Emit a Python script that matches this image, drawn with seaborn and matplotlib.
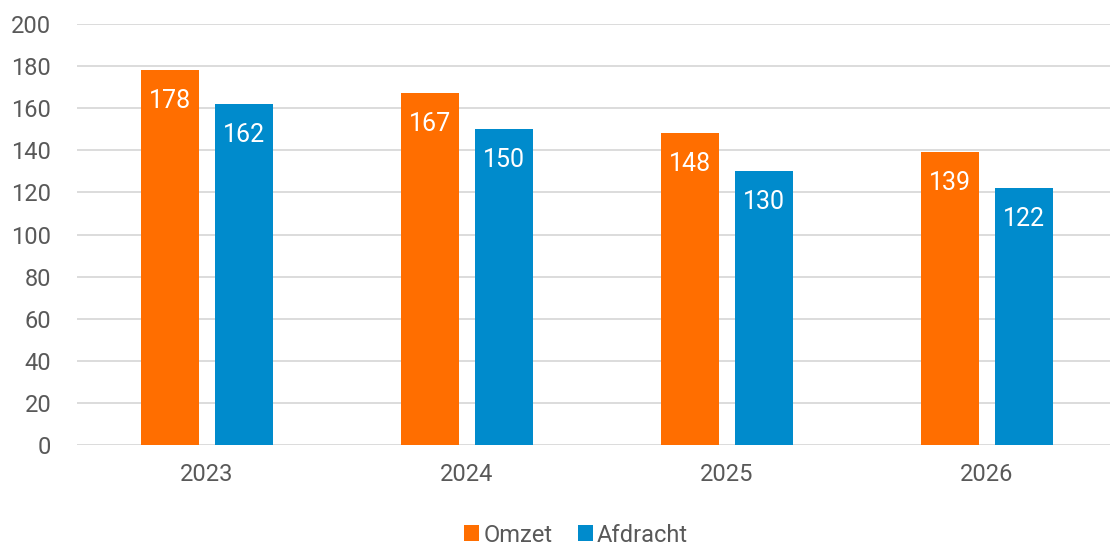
import matplotlib
matplotlib.use("Agg")
import matplotlib.pyplot as plt
import seaborn as sns
import pandas as pd
from matplotlib.patches import Patch

years = ["2023", "2024", "2025", "2026"]
omzet = [178, 167, 148, 139]
afdracht = [162, 150, 130, 122]
series_names = ["Omzet", "Afdracht"]
colors = ["#FF6E00", "#008BCC"]
yticks = [0, 20, 40, 60, 80, 100, 120, 140, 160, 180, 200]

df = pd.DataFrame({
    "year": years * 2,
    "value": omzet + afdracht,
    "series": [series_names[0]] * len(years) + [series_names[1]] * len(years),
})

sns.set_theme(style="white")
plt.rcParams["font.family"] = ["Roboto", "DejaVu Sans"]

W, H = 1110, 545
fig = plt.figure(figsize=(W / 100, H / 100), dpi=100)
left, right, top, bottom = 77, 1110, 24, 445
ax = fig.add_axes([left / W, 1 - bottom / H, (right - left) / W, (bottom - top) / H])

sns.barplot(data=df, x="year", y="value", hue="series", palette=colors,
            width=0.569, gap=0.216, dodge=True, ax=ax, legend=False,
            saturation=1, linewidth=0)

ax.set_ylim(0, 200)
ax.set_xlim(-0.5, 3.5 - 7 / 260)
ax.set_yticks(yticks)
ax.yaxis.grid(True, color="#d9d9d9", linewidth=1.3)
ax.set_axisbelow(True)
for s in ax.spines.values():
    s.set_visible(False)
ax.set_xlabel("")
ax.set_ylabel("")
ax.tick_params(axis="y", length=0, labelsize=17, labelcolor="#595959", pad=18.5)
ax.tick_params(axis="x", length=0, labelsize=17, labelcolor="#595959", pad=13)
for lbl in ax.get_yticklabels():
    lbl.set_horizontalalignment("right")

for cont in ax.containers:
    for bar in cont:
        h = bar.get_height()
        ax.annotate(f"{h:.0f}", (bar.get_x() + bar.get_width() / 2, h),
                    xytext=(0, -22), textcoords="offset points",
                    ha="center", va="center", color="white", fontsize=18)

handles = [Patch(facecolor=c, edgecolor="none") for c in colors]
fig.legend(handles, series_names, loc="center", bbox_to_anchor=(576 / W, 1 - 535 / H),
           ncol=2, frameon=False, fontsize=17, handlelength=0.64, handleheight=0.64,
           handletextpad=0.17, columnspacing=1.06, labelcolor="#595959")

fig.savefig("out.png", dpi=100)
